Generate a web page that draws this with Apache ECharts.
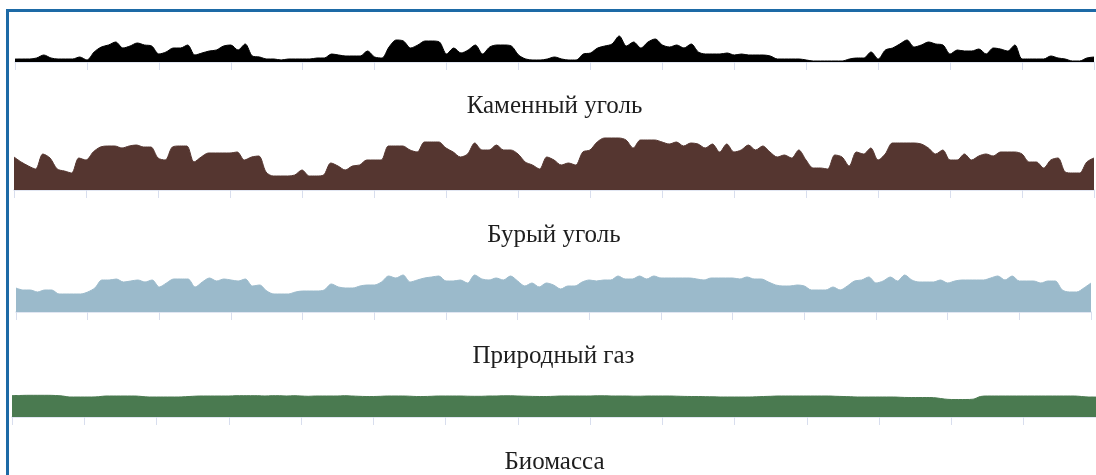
<!DOCTYPE html>
<html>
<head>
<meta charset="utf-8">
<script src="https://cdn.jsdelivr.net/npm/echarts@6/dist/echarts.min.js"></script>
<style>
    html, body { margin: 0; padding: 0; background: #fff; overflow: hidden; }
    #frame {
        position: absolute; left: 6px; top: 9px; width: 1300px; height: 700px;
        border: 3px solid #1d6aa6;
    }
    #chart { position: absolute; left: 0; top: 0; width: 1096px; height: 475px; }
</style>
</head>
<body>
<div id="frame"></div>
<div id="chart"></div>
<script>
// значения (ось Y без подписей, условные единицы)
var hardCoal = [
    3, 3, 3, 4, 7, 4, 3, 3, 3, 5,
    2, 10, 15, 17, 20, 14, 16, 19, 17, 16,
    8, 10, 14, 14, 17, 7, 9, 11, 12, 16,
    17, 12, 18, 6, 5, 3, 3, 2, 3, 3,
    3, 3, 4, 4, 8, 7, 6, 6, 6, 11,
    5, 4, 15, 22, 21, 14, 17, 21, 21, 20,
    8, 14, 9, 12, 17, 8, 15, 17, 17, 16,
    7, 3, 2, 2, 3, 5, 3, 2, 2, 8,
    9, 14, 16, 18, 26, 16, 20, 14, 20, 23,
    17, 15, 17, 14, 18, 10, 8, 8, 8, 9,
    7, 8, 7, 7, 7, 6, 3, 3, 3, 3,
    2, 1, 1, 1, 1, 1, 3, 4, 4, 10,
    3, 12, 14, 18, 22, 15, 17, 20, 18, 17,
    8, 12, 11, 11, 13, 8, 14, 13, 11, 17,
    3, 3, 3, 3, 6, 4, 3, 1, 1, 4, 5
];
var brownCoal = [
    33, 28, 24, 21, 36, 32, 21, 19, 17, 32,
    30, 38, 43, 44, 44, 42, 44, 45, 43, 43,
    32, 30, 43, 44, 44, 28, 33, 37, 37, 37,
    37, 38, 30, 33, 34, 18, 14, 14, 14, 15,
    20, 14, 14, 15, 27, 24, 20, 24, 25, 30,
    30, 30, 44, 44, 44, 40, 38, 48, 48, 48,
    42, 38, 33, 36, 47, 40, 40, 45, 40, 40,
    36, 28, 25, 21, 33, 30, 25, 27, 25, 38,
    40, 48, 52, 52, 52, 50, 42, 50, 50, 50,
    48, 46, 48, 44, 47, 46, 42, 46, 38, 46,
    38, 40, 45, 40, 44, 38, 33, 35, 32, 40,
    30, 22, 22, 21, 35, 33, 24, 38, 36, 42,
    30, 36, 47, 47, 47, 47, 46, 42, 36, 40,
    30, 30, 36, 30, 34, 36, 34, 38, 38, 38,
    36, 28, 28, 22, 30, 32, 18, 17, 17, 28, 32
];
var naturalGas = [
    24, 22, 22, 20, 22, 22, 18, 18, 18, 18,
    20, 24, 32, 32, 33, 30, 31, 32, 30, 32,
    25, 29, 33, 33, 33, 25, 30, 34, 31, 33,
    32, 31, 33, 26, 27, 21, 18, 18, 18, 20,
    21, 21, 21, 22, 28, 25, 24, 24, 26, 27,
    27, 30, 36, 34, 37, 30, 32, 34, 35, 36,
    31, 31, 32, 29, 37, 33, 32, 34, 32, 36,
    31, 26, 29, 25, 29, 27, 23, 26, 26, 30,
    32, 31, 32, 32, 36, 33, 33, 36, 33, 36,
    34, 34, 34, 34, 34, 33, 32, 34, 34, 34,
    34, 33, 35, 33, 33, 30, 27, 26, 26, 27,
    26, 22, 22, 22, 25, 22, 26, 31, 32, 35,
    29, 31, 35, 31, 37, 32, 30, 30, 30, 32,
    29, 31, 32, 32, 32, 32, 34, 36, 32, 36,
    31, 31, 31, 29, 31, 31, 22, 20, 20, 24, 29
];
var biomass = [
    21.5, 21.5, 21.7, 21.7, 21.7, 21.7, 21.5, 21, 20, 20,
    20, 20, 20.3, 21, 21, 21, 21, 21, 20.5, 20,
    20, 20, 20, 20, 20.3, 20.7, 21, 21, 21, 21,
    21, 21.3, 21.3, 21.3, 21.3, 21, 21.3, 21.3, 21, 21.3,
    21, 20.7, 21, 21, 21, 21, 21.3, 21, 20.7, 20.5,
    20.5, 20.7, 21, 21, 21, 20.8, 20.5, 20.5, 20.7, 21,
    21, 21, 21, 20.8, 20.7, 20.7, 21, 21, 21.2, 21.2,
    21, 20.8, 20.6, 20.5, 20.5, 20.7, 21, 21, 21, 21,
    21, 21.2, 21.2, 21, 21, 21, 20.8, 20.8, 21, 21,
    21, 21, 20.8, 20.6, 20.5, 20.5, 20.3, 20.2, 20, 20,
    20, 20, 20, 20.2, 20.5, 20.7, 21, 21, 21, 21,
    21, 21, 21, 21, 20.7, 20.5, 20.3, 20, 20, 20,
    20, 20, 20, 19.7, 19.5, 19.5, 19.5, 19.5, 19, 18,
    17.5, 17.5, 17.5, 17.8, 20.5, 21, 21, 21, 21, 21,
    21, 21, 21, 21, 21, 21, 21, 21, 20.5, 20, 20
];
var titles = ['Каменный уголь', 'Бурый уголь', 'Природный газ', 'Биомасса'];
var colors = ['#000000', '#553630', '#9bbacb', '#4a7a50'];
var seriesData = [hardCoal, brownCoal, naturalGas, biomass];
var days = hardCoal.map(function (_, i) { return i; });

// расположение панелей
var panels = [
    { left: 15, width: 1079, top: 6, titleY: 106 },
    { left: 14, width: 1080, top: 134, titleY: 235 },
    { left: 16, width: 1075, top: 256, titleY: 356.5 },
    { left: 12, width: 1085, top: 361, titleY: 462 }
];
var panelH = 56;
var yMax = 56;

var grids = [], xAxes = [], yAxes = [], series = [], texts = [];
panels.forEach(function (p, i) {
    grids.push({ left: p.left, width: p.width, top: p.top, height: panelH });
    xAxes.push({
        type: 'category',
        gridIndex: i,
        data: days,
        boundaryGap: false,
        axisLine: { show: true, lineStyle: { color: '#d8deee', width: 1.5 } },
        axisTick: {
            show: true,
            length: 8,
            interval: function (idx) { return idx % 10 === 0; },
            lineStyle: { color: '#d8deee', width: 1 }
        },
        axisLabel: { show: false },
        splitLine: { show: false }
    });
    yAxes.push({ type: 'value', gridIndex: i, min: 0, max: yMax, show: false });
    series.push({
        type: 'line',
        xAxisIndex: i,
        yAxisIndex: i,
        data: seriesData[i],
        smooth: 0.3,
        symbol: 'none',
        lineStyle: { color: colors[i], width: 1 },
        itemStyle: { color: colors[i] },
        areaStyle: { color: colors[i], opacity: 1 },
        animation: false
    });
    texts.push({
        type: 'text',
        x: p.left + p.width / 2,
        y: p.titleY,
        style: {
            text: titles[i],
            font: '25px "Liberation Serif", "Times New Roman", serif',
            fill: '#1e1e1e',
            align: 'center',
            verticalAlign: 'middle'
        }
    });
});

var myChart = echarts.init(document.getElementById('chart'));
myChart.setOption({
    animation: false,
    grid: grids,
    xAxis: xAxes,
    yAxis: yAxes,
    series: series,
    graphic: texts
});
</script>
</body>
</html>
